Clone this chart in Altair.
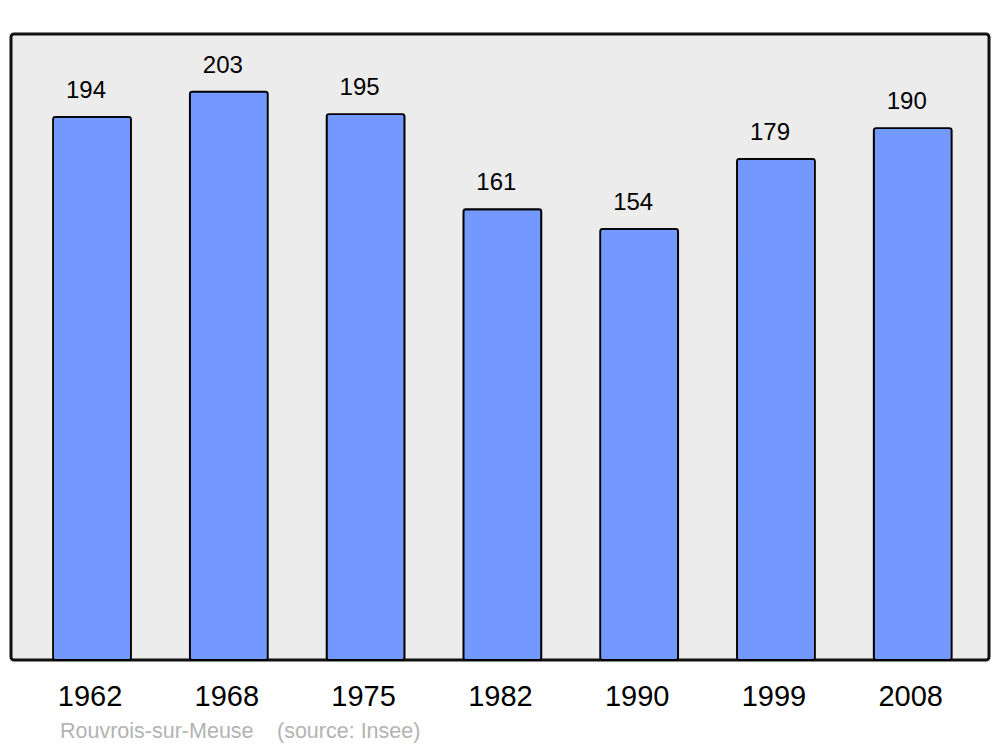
import altair as alt
import pandas as pd

years = ["1962", "1968", "1975", "1982", "1990", "1999", "2008"]
population = [194, 203, 195, 161, 154, 179, 190]
commune = "Rouvrois-sur-Meuse"
source = "(source: Insee)"

df = pd.DataFrame({"year": years, "pop": population})

x = alt.X("year:N", sort=years, title=None,
          scale=alt.Scale(paddingInner=0.43, paddingOuter=0.29, align=0.53),
          axis=alt.Axis(labelAngle=0, labelFontSize=29, labelFont="Liberation Sans",
                        labelColor="#000000", ticks=False, tickSize=0, domain=False,
                        labelPadding=45, labelOffset=-2, labelBaseline="alphabetic",
                        grid=False))
y = alt.Y("pop:Q", title=None, scale=alt.Scale(domain=[0, 223.6], nice=False, zero=True),
          axis=None)

base = alt.Chart(df)

bars = base.mark_bar(color="#7399ff", stroke="#000000", strokeWidth=1.8,
                     cornerRadius=2.5).encode(x=x, y=y)

labels = base.mark_text(fontSize=24, font="Liberation Sans", color="#000000",
                        baseline="alphabetic", dy=-19, dx=-6).encode(
    x=x, y=y, text=alt.Text("pop:Q"))

src1 = alt.Chart(pd.DataFrame({"t": [commune]})).mark_text(
    align="left", baseline="alphabetic", fontSize=21.5, font="Liberation Sans",
    color="#b3b3b3").encode(x=alt.value(49), y=alt.value(704), text="t:N")
src2 = alt.Chart(pd.DataFrame({"t": [source]})).mark_text(
    align="left", baseline="alphabetic", fontSize=21.5, font="Liberation Sans",
    color="#b3b3b3").encode(x=alt.value(266), y=alt.value(704), text="t:N")

chart = alt.layer(bars, labels, src1, src2).properties(
    width=978, height=626,
    autosize=alt.AutoSizeParams(type="none"),
    padding={"left": 3, "top": 26, "right": 3, "bottom": 90},
).configure_view(
    fill="#ececec", stroke="#111111", strokeWidth=3, cornerRadius=3
)

chart.save("out.html", embed_options={"renderer": "svg", "actions": False})
